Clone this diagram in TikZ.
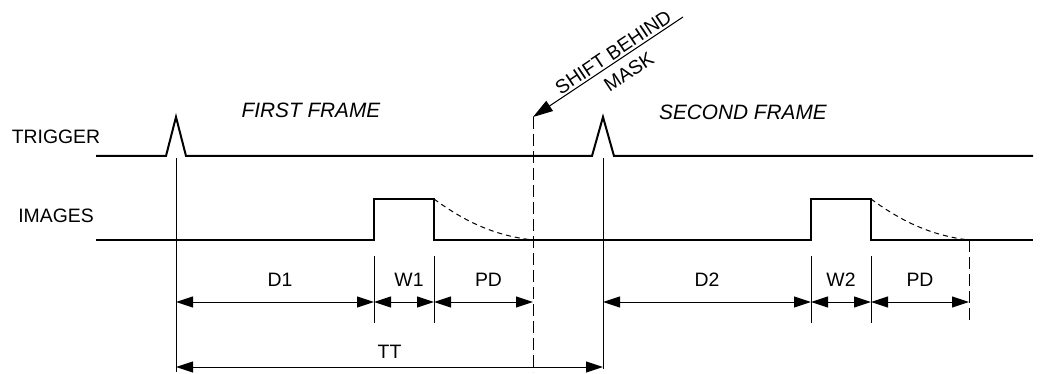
\documentclass[tikz,border=0pt]{standalone}
\usepackage{fontspec}
\setmainfont{Liberation Sans}
\usetikzlibrary{arrows.meta,positioning}

\begin{document}
\begin{tikzpicture}[x=0.5pt,y=-0.5pt, sig/.style={line width=1pt,line join=miter}, thin line/.style={line width=0.5pt}, dim/.style={line width=0.5pt,{Triangle[length=8.5pt,width=5.5pt]}-{Triangle[length=8.5pt,width=5.5pt]}}, cut/.style={line width=0.5pt,dash pattern=on 6pt off 2.5pt}, lbl/.style={font=\fontsize{9.7}{12}\selectfont,inner sep=1pt}, frame/.style={font=\fontsize{10.4}{12}\selectfont\itshape,inner sep=1pt}, >=Stealth]
\useasboundingbox (0,0) rectangle (1045,374);
\node[lbl] (trig) at (56,137) {TRIGGER};
\node[lbl] (imgs) at (56,216) {IMAGES};
\node[frame] (frame1) at (311,110) {FIRST FRAME};
\node[frame] (frame2) at (743,112) {SECOND FRAME};
% waveforms
\draw[sig] (96,156) -- (166,156) -- (176,117) -- (186,156) -- (592,156) -- (603,117) -- (614,156) -- (1033,156);
\draw[sig] (96,240) -- (374,240) -- (374,199) -- (434,199) -- (434,240) -- (811,240) -- (811,199) -- (871,199) -- (871,240) -- (1033,240);
\draw[thin line,dash pattern=on 2.5pt off 2pt] (434,199) .. controls (468,224) and (498,236) .. (533,240);
\draw[thin line,dash pattern=on 2.5pt off 2pt] (871,199) .. controls (905,224) and (935,236) .. (969,240);
% markers
\coordinate (t1) at (176,158);
\coordinate (t2) at (603,158);
\coordinate (mask) at (533,117);
\coordinate (shift) at (683,17);
\draw[thin line] (t1) -- (176,372);
\draw[thin line] (t2) -- (603,369);
\draw[cut] (mask) -- (533,372);
\draw[cut] (969,240) -- (969,323);
\foreach \x in {374,434,811,871}
  \draw[thin line] (\x,256) -- (\x,323);
\draw[thin line,-{Triangle[length=10pt,width=6pt]}] (shift) -- node[lbl,sloped,above=0pt,pos=0.43] {SHIFT BEHIND} node[lbl,sloped,below=3.2pt,pos=0.42] {MASK} (mask);
% dimensions
\coordinate (a0) at (176,302);
\coordinate (a1) at (374,302);
\coordinate (a2) at (434,302);
\coordinate (a3) at (533,302);
\coordinate (b0) at (603,302);
\coordinate (b1) at (811,302);
\coordinate (b2) at (871,302);
\coordinate (b3) at (969,302);
\coordinate (c0) at (176,367);
\coordinate (c1) at (603,367);
\draw[dim] (a0) -- node[lbl,above=6.5pt,xshift=2.5pt] {D1} (a1);
\draw[dim] (a1) -- node[lbl,above=6.5pt,xshift=2.5pt] {W1} (a2);
\draw[dim] (a2) -- node[lbl,above=6.5pt,xshift=2.5pt] {PD} (a3);
\draw[dim] (b0) -- node[lbl,above=6.5pt] {D2} (b1);
\draw[dim] (b1) -- node[lbl,above=6.5pt] {W2} (b2);
\draw[dim] (b2) -- node[lbl,above=6.5pt] {PD} (b3);
\draw[dim] (c0) -- node[lbl,above=3pt] {TT} (c1);
\end{tikzpicture}
\end{document}
